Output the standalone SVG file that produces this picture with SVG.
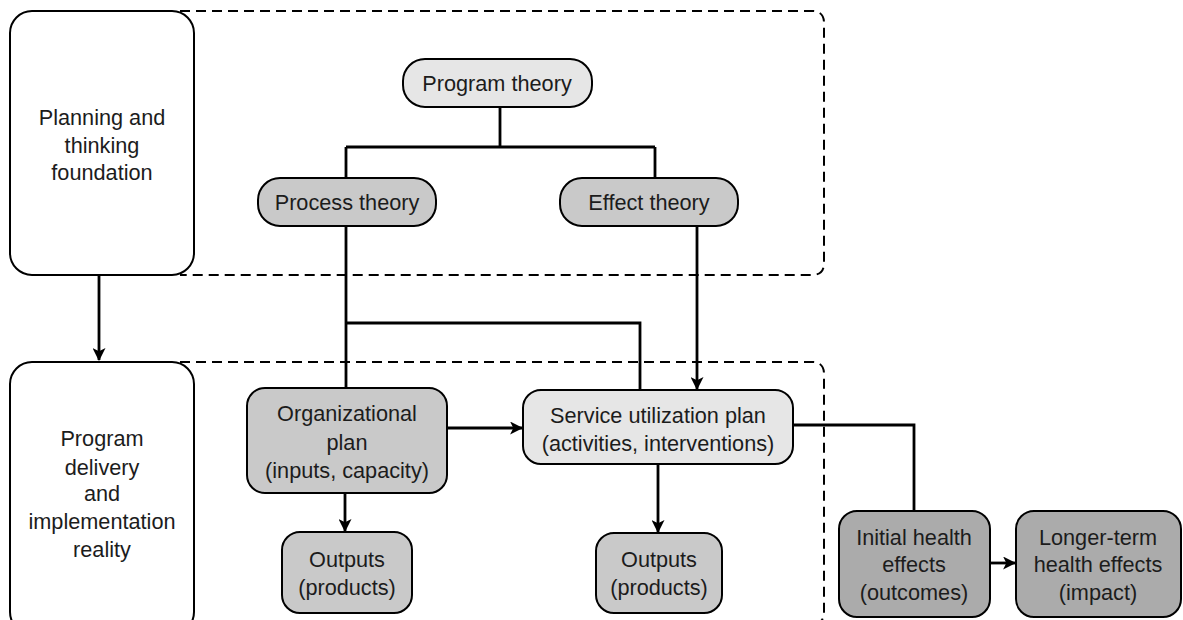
<svg xmlns="http://www.w3.org/2000/svg" width="1183" height="620" viewBox="0 0 1183 620">
<defs>
<marker id="arr" viewBox="0 0 12 12" refX="11" refY="6" markerWidth="13" markerHeight="13" markerUnits="userSpaceOnUse" orient="auto">
<path d="M0,0 L12,6 L0,12 L3,6 Z" fill="#000"/>
</marker>
<style>
text{font-family:"Liberation Sans",Arial,sans-serif;font-size:21.7px;fill:#1c1c1c;text-anchor:middle}
.frame{fill:#fff;stroke:#000;stroke-width:2}
.light{fill:#e6e6e6;stroke:#000;stroke-width:2}
.mid{fill:#c9c9c9;stroke:#000;stroke-width:2}
.dark{fill:#ababab;stroke:#000;stroke-width:2}
.dash{fill:none;stroke:#000;stroke-width:2;stroke-dasharray:10,6}
.ln{fill:none;stroke:#000;stroke-width:2.8}
</style>
</defs>
<rect width="1183" height="620" fill="#fff"/>
<g id="regions">
<path class="dash" d="M180,11 H812 Q824,11 824,23 V263 Q824,275 812,275 H180"/>
<path class="dash" d="M180,362 H812 Q824,362 824,374 V612 Q824,624 812,624 H180"/>
</g>
<g id="connectors">
<line class="ln" x1="99" y1="275" x2="99" y2="360" marker-end="url(#arr)"/>
<path class="ln" d="M500,107 V147 M346,147 H655 M346,147 V178 M655,147 V178"/>
<path class="ln" d="M346,226 V388 M346,323 H640 V390"/>
<line class="ln" x1="697" y1="226" x2="697" y2="389" marker-end="url(#arr)"/>
<line class="ln" x1="447" y1="428" x2="522" y2="428" marker-end="url(#arr)"/>
<line class="ln" x1="345" y1="493" x2="345" y2="531" marker-end="url(#arr)"/>
<line class="ln" x1="658" y1="464" x2="658" y2="532" marker-end="url(#arr)"/>
<path class="ln" d="M793,425 H914 V511"/>
<line class="ln" x1="990" y1="563" x2="1015" y2="563" marker-end="url(#arr)"/>
</g>
<g id="planning">
<rect class="frame" x="10" y="11" width="184" height="264" rx="22"/>
<text x="102" y="125">Planning and</text>
<text x="102" y="153">thinking</text>
<text x="102" y="180">foundation</text>
</g>
<g id="delivery">
<rect class="frame" x="10" y="362" width="184" height="272" rx="22"/>
<text x="102" y="446">Program</text>
<text x="102" y="475">delivery</text>
<text x="102" y="501">and</text>
<text x="102" y="529">implementation</text>
<text x="102" y="557">reality</text>
</g>
<g id="program-theory">
<rect class="light" x="403" y="59" width="189" height="48" rx="22"/>
<text x="497" y="91">Program theory</text>
</g>
<g id="process-theory">
<rect class="mid" x="258" y="178" width="178" height="48" rx="22"/>
<text x="347" y="210">Process theory</text>
</g>
<g id="effect-theory">
<rect class="mid" x="560" y="178" width="178" height="48" rx="22"/>
<text x="649" y="210">Effect theory</text>
</g>
<g id="org-plan">
<rect class="mid" x="247" y="388" width="200" height="105" rx="18"/>
<text x="347" y="421">Organizational</text>
<text x="347" y="450">plan</text>
<text x="347" y="478">(inputs, capacity)</text>
</g>
<g id="service-plan">
<rect class="light" x="523" y="390" width="270" height="74" rx="18"/>
<text x="658" y="423">Service utilization plan</text>
<text x="658" y="451">(activities, interventions)</text>
</g>
<g id="outputs-1">
<rect class="mid" x="282" y="532" width="130" height="81" rx="18"/>
<text x="347" y="567">Outputs</text>
<text x="347" y="595">(products)</text>
</g>
<g id="outputs-2">
<rect class="mid" x="596" y="533" width="126" height="80" rx="18"/>
<text x="659" y="567">Outputs</text>
<text x="659" y="595">(products)</text>
</g>
<g id="initial-effects">
<rect class="dark" x="839" y="511" width="151" height="106" rx="18"/>
<text x="914" y="545">Initial health</text>
<text x="914" y="572">effects</text>
<text x="914" y="600">(outcomes)</text>
</g>
<g id="longer-effects">
<rect class="dark" x="1016" y="511" width="165" height="106" rx="18"/>
<text x="1098" y="545">Longer-term</text>
<text x="1098" y="572">health effects</text>
<text x="1098" y="600">(impact)</text>
</g>
</svg>
